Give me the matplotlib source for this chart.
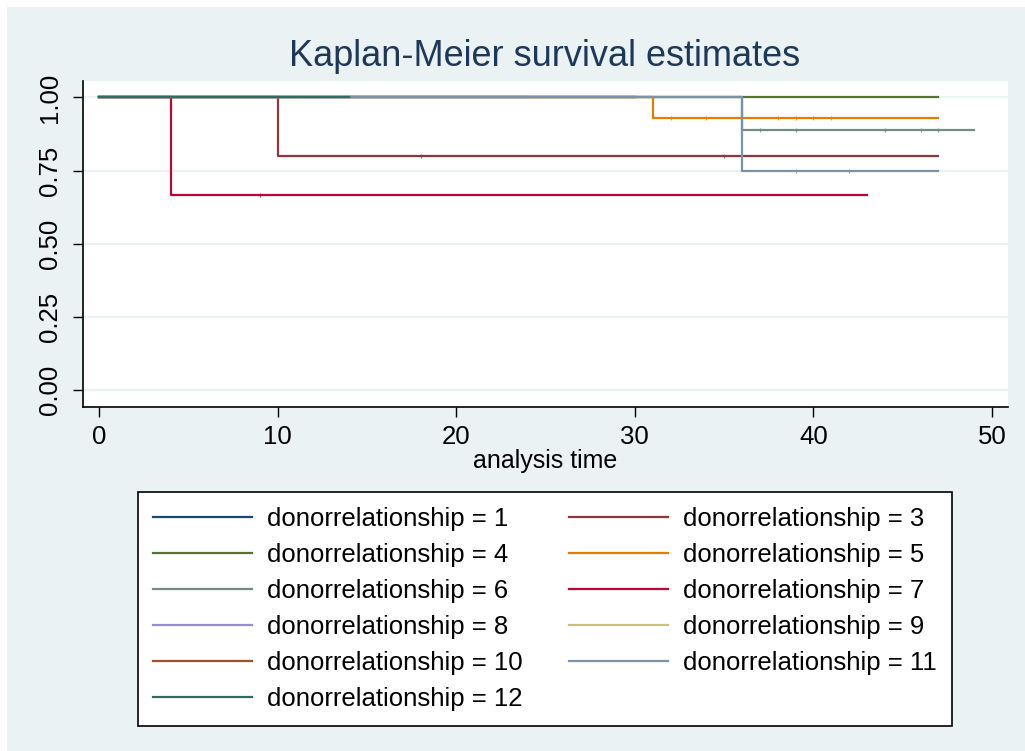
import matplotlib
matplotlib.use("Agg")
import matplotlib.pyplot as plt
from matplotlib.patches import Rectangle

plt.rcParams['font.family'] = ['Liberation Sans', 'DejaVu Sans']

# groups of donorrelationship, in the order stata draws them
groups = [1, 3, 4, 5, 6, 7, 8, 9, 10, 11, 12]

# step times and survival for each group (last time = end of follow-up)
times = {
    1: [0, 30],
    3: [0, 10, 47],
    4: [0, 47],
    5: [0, 31, 47],
    6: [0, 36, 49],
    7: [0, 4, 43],
    8: [0, 24],
    9: [0, 12],
    10: [0, 30],
    11: [0, 36, 47],
    12: [0, 14],
}
surv = {
    1: [1, 1],
    3: [1, 0.8, 0.8],
    4: [1, 1],
    5: [1, 0.929, 0.929],
    6: [1, 0.889, 0.889],
    7: [1, 0.667, 0.667],
    8: [1, 1],
    9: [1, 1],
    10: [1, 1],
    11: [1, 0.75, 0.75],
    12: [1, 1],
}
# censoring times (small ticks on the curves)
censored = {
    3: [18, 35],
    5: [32, 34, 38, 39, 40, 41],
    6: [37, 39, 44, 46, 47],
    7: [9],
    11: [39, 42],
}

colors = {
    1: '#1a476f', 3: '#90353b', 4: '#55752f', 5: '#e37e00',
    6: '#6e8e84', 7: '#c10534', 8: '#938dd2', 9: '#cac27e',
    10: '#a0522d', 11: '#7b92a8', 12: '#2d6d66',
}

bg = '#eaf2f3'

fig = plt.figure(figsize=(10.25, 7.51), dpi=100, facecolor='white')
fig.patches.append(Rectangle((7 / 1025, 0), 1, 1 - 7 / 751, transform=fig.transFigure,
                             facecolor=bg, edgecolor='none', zorder=-10))

ax = fig.add_axes([83 / 1025, 1 - 407 / 751, (1008 - 83) / 1025, (407 - 81) / 751])
ax.set_facecolor('white')

handles = {}
for g in groups:
    t = times[g]
    s = surv[g]
    h, = ax.step(t, s, where='post', color=colors[g], lw=1.6, zorder=3,
                 label='donorrelationship = %d' % g)
    handles[g] = h
    if g in censored:
        for c in censored[g]:
            # survival level at censoring time
            lvl = s[0]
            for ti, si in zip(t, s):
                if ti <= c:
                    lvl = si
            ax.plot([c], [lvl], marker='|', ms=3.5, mew=0.8, color=colors[g],
                    alpha=0.8, zorder=3)

ax.set_xlim(-0.9, 50.9)
ax.set_ylim(-0.057, 1.056)
ax.set_xticks([0, 10, 20, 30, 40, 50])
ax.set_yticks([0, 0.25, 0.5, 0.75, 1.0])
ax.set_yticklabels(['%.2f' % v for v in [0, 0.25, 0.5, 0.75, 1.0]], rotation=90, va='center')
ax.tick_params(axis='both', direction='out', length=7, width=1, labelsize=18.5, colors='black')
ax.tick_params(axis='y', pad=8)
ax.tick_params(axis='x', pad=6)
ax.yaxis.grid(True, color=bg, lw=1.6, zorder=0)
ax.xaxis.grid(False)
ax.set_axisbelow(True)
for side in ['top', 'right']:
    ax.spines[side].set_visible(False)
for side in ['left', 'bottom']:
    ax.spines[side].set_linewidth(1.2)
    ax.spines[side].set_color('black')

ax.set_xlabel('analysis time', fontsize=18, labelpad=0)
fig.text(545 / 1025, 1 - 57 / 751, 'Kaplan-Meier survival estimates', fontsize=26,
         color='#1e3859', ha='center', va='center')

# legend filled row by row like stata: column 1 gets 1,4,6,8,10,12
order = [1, 4, 6, 8, 10, 12, 3, 5, 7, 9, 11]
leg = fig.legend([handles[g] for g in order], [handles[g].get_label() for g in order],
                 ncol=2, loc='upper left', mode='expand',
                 bbox_to_anchor=(138 / 1025, 0.0413, (952 - 138) / 1025, 1 - 492 / 751 - 0.0413),
                 fontsize=18.5, handlelength=3.85, handletextpad=0.58,
                 labelspacing=0.46, borderpad=0.6, borderaxespad=0,
                 frameon=True, fancybox=False, framealpha=1, edgecolor='black')
leg.get_frame().set_linewidth(1.2)

fig.savefig('out.png', dpi=100, facecolor=fig.get_facecolor())
